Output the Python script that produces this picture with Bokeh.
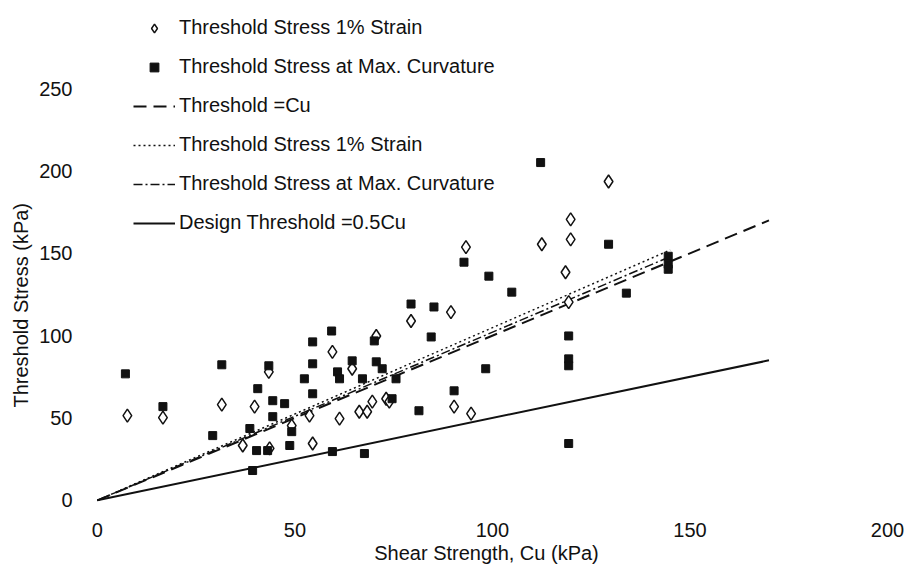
from bokeh.plotting import figure
from bokeh.models import Legend, LegendItem, Title, FixedTicker
from bokeh.embed import file_html
from bokeh.resources import INLINE

# ---- data ----
strain_cu = [7.6, 16.6, 31.5, 43.4, 39.8, 36.8, 43.6, 59.5, 64.5, 73.1, 69.6, 66.3, 68.3,
             61.3, 53.7, 54.5, 49.2, 79.4, 89.5, 90.3, 94.6, 129.4, 119.8, 119.8, 118.5,
             119.3, 93.3, 112.5, 70.6, 73.9]
strain_t = [51.4, 50.2, 58.1, 78.0, 56.9, 33.3, 31.5, 90.1, 79.9, 61.7, 59.9, 53.8, 53.8,
            49.6, 51.4, 34.5, 45.4, 108.9, 114.3, 56.9, 52.6, 193.6, 170.6, 158.5, 138.5,
            120.4, 153.7, 155.5, 99.8, 59.9]

curv_cu = [7.1, 16.6, 31.5, 43.4, 40.6, 44.4, 44.4, 29.2, 38.6, 40.3, 39.3, 59.3, 54.5,
           54.5, 52.4, 47.4, 54.5, 60.8, 64.5, 70.1, 70.6, 72.1, 75.6, 74.6, 81.4, 49.2,
           48.7, 43.1, 59.5, 67.6, 79.4, 84.5, 112.2, 129.4, 133.9, 144.5, 144.5, 144.5,
           119.3, 119.3, 119.3, 119.3, 92.8, 99.1, 104.9, 98.3, 90.3, 61.3, 67.1, 85.2]
curv_t = [76.8, 56.9, 82.3, 81.7, 67.8, 60.5, 50.8, 39.3, 43.6, 30.2, 18.1, 102.8, 96.2,
          82.9, 73.8, 58.7, 64.7, 78.0, 84.7, 96.8, 84.1, 79.9, 73.8, 61.7, 54.4, 41.7,
          33.3, 30.2, 29.6, 28.4, 119.2, 99.2, 205.1, 155.5, 125.8, 148.2, 143.4, 140.3,
          99.8, 85.9, 81.7, 34.5, 144.6, 136.1, 126.4, 79.9, 66.5, 73.8, 73.8, 117.4]

cu_line_x = [0, 170]
cu_line_y = [0, 170]
strain_fit_x = [0, 145]
strain_fit_y = [0, 152]
curv_fit_x = [0, 145]
curv_fit_y = [0, 148]
design_x = [0, 170]
design_y = [0, 85]

x_ticks = [0, 50, 100, 150, 200]
y_ticks = [0, 50, 100, 150, 200, 250]

legend_labels = ["Threshold Stress 1% Strain",
                 "Threshold Stress at Max. Curvature",
                 "Threshold =Cu",
                 "Threshold Stress 1% Strain",
                 "Threshold Stress at Max. Curvature",
                 "Design Threshold =0.5Cu"]

FONT = "Liberation Sans"
INK = "#111111"

p = figure(width=904, height=566, x_range=(-3, 200), y_range=(-8, 295),
           output_backend="svg", toolbar_location=None,
           min_border_left=85, min_border_right=17, min_border_top=14, min_border_bottom=52)
p.outline_line_color = None
p.grid.visible = False
p.background_fill_color = "white"

for ax in (p.xaxis[0], p.yaxis[0]):
    ax.axis_line_color = None
    ax.major_tick_line_color = None
    ax.minor_tick_line_color = None
    ax.major_label_text_font = FONT
    ax.major_label_text_font_size = "20px"
    ax.major_label_text_color = INK
p.xaxis[0].ticker = FixedTicker(ticks=x_ticks)
p.yaxis[0].ticker = FixedTicker(ticks=y_ticks)
p.xaxis[0].major_label_standoff = 3
p.yaxis[0].major_label_standoff = 7
p.xaxis[0].axis_label = "Shear Strength, Cu (kPa)"
p.xaxis[0].axis_label_text_font = FONT
p.xaxis[0].axis_label_text_font_size = "20px"
p.xaxis[0].axis_label_text_font_style = "normal"
p.xaxis[0].axis_label_text_color = INK
p.xaxis[0].axis_label_standoff = 2

ytitle = Title(text="Threshold Stress (kPa)", align="left", offset=106, standoff=10,
               text_font=FONT, text_font_size="20px", text_font_style="normal",
               text_color=INK)
p.add_layout(ytitle, "left")

r_cu = p.line(cu_line_x, cu_line_y, line_color=INK, line_width=2, line_dash="13 7")
r_sf = p.line(strain_fit_x, strain_fit_y, line_color=INK, line_width=1.5, line_dash="2 3")
r_cf = p.line(curv_fit_x, curv_fit_y, line_color=INK, line_width=1.5, line_dash="9 3 2 3")
r_ds = p.line(design_x, design_y, line_color=INK, line_width=2)
r_st = p.scatter(strain_cu, strain_t, marker="diamond", size=13, fill_color="white",
                 line_color=INK, line_width=1.5)
r_cv = p.scatter(curv_cu, curv_t, marker="square", size=8, fill_color=INK, line_color=INK)

items = [LegendItem(label=legend_labels[0], renderers=[r_st]),
         LegendItem(label=legend_labels[1], renderers=[r_cv]),
         LegendItem(label=legend_labels[2], renderers=[r_cu]),
         LegendItem(label=legend_labels[3], renderers=[r_sf]),
         LegendItem(label=legend_labels[4], renderers=[r_cf]),
         LegendItem(label=legend_labels[5], renderers=[r_ds])]
leg = Legend(items=items, location=(48, 279), padding=0, margin=0, spacing=16,
             glyph_width=42, glyph_height=22, label_height=22, label_standoff=4,
             label_text_font=FONT, label_text_font_size="20px", label_text_color=INK,
             border_line_color=None, background_fill_alpha=0)
p.add_layout(leg)

open("out.html", "w").write(file_html(p, INLINE))
